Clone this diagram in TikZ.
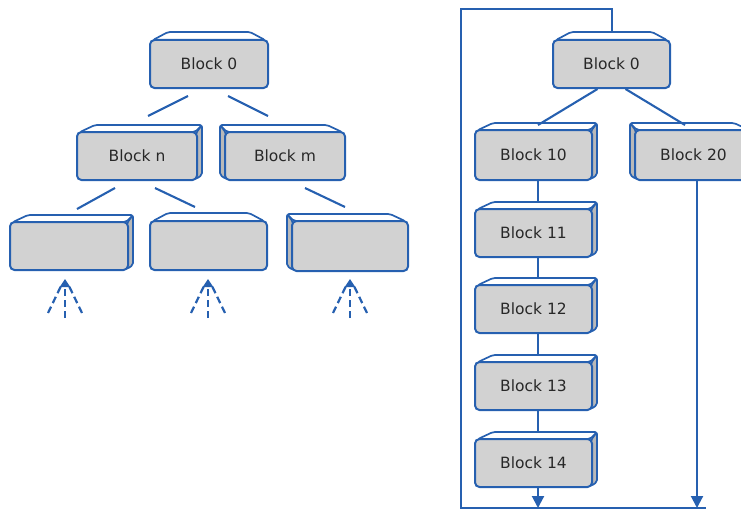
\documentclass[tikz,border=0pt]{standalone}
\usepackage{fontspec}
\setmainfont{DejaVu Sans}
\usetikzlibrary{arrows.meta,calc}
\definecolor{bblue}{RGB}{38,96,176}
\definecolor{bgray}{RGB}{210,210,210}
\definecolor{sgray}{RGB}{185,185,185}
\definecolor{tcol}{RGB}{40,40,40}

\newcommand\faceR[4]{%
  \draw[face, fill=white] (#1+3,#2) -- (#1+18,#2-7) -- (#3+5,#2-7) -- (#3-2,#2) -- cycle;
  \draw[face, fill=sgray] (#3-1,#2+1) -- (#3+5,#2-7) -- (#3+5,#4-5) -- (#3-1,#4-1) -- cycle;
}
\newcommand\faceL[4]{%
  \draw[face, fill=white] (#3-3,#2) -- (#3-18,#2-7) -- (#1-5,#2-7) -- (#1+2,#2) -- cycle;
  \draw[face, fill=sgray] (#1+1,#2+1) -- (#1-5,#2-7) -- (#1-5,#4-5) -- (#1+1,#4-1) -- cycle;
}
\newcommand\faceS[4]{%
  \draw[face, fill=white] (#1+3,#2) -- (#1+18,#2-8) -- (#3-18,#2-8) -- (#3-3,#2) -- cycle;
}
\newcommand\blk[7]{%
  \pgfmathsetmacro\bcx{(#2+#4)/2}%
  \pgfmathsetmacro\bcy{(#3+#5)/2}%
  \pgfmathsetmacro\bw{#4-#2}%
  \pgfmathsetmacro\bh{#5-#3}%
  #6{#2}{#3}{#4}{#5}%
  \node[blockfront, minimum width=\bw pt, minimum height=\bh pt] (#1) at (\bcx,\bcy) {#7};
}

\begin{document}
\begin{tikzpicture}[x=1pt,y=-1pt,
  blockfront/.style={draw=bblue, line width=2pt, fill=bgray, rounded corners=4.5pt, inner sep=0pt, font=\fontsize{15.5}{17}\selectfont, text=tcol},
  face/.style={draw=bblue, line width=1.7pt, rounded corners=2pt, line join=round},
  conn/.style={draw=bblue, line width=2.1pt},
  arr/.style={conn, -{Triangle[length=12pt,width=12pt]}},
  dasharr/.style={draw=bblue, line width=2.2pt, dash pattern=on 7pt off 4pt}]
\useasboundingbox (0,0) rectangle (741,511);

% left tree
\blk{L0}{150}{40}{268}{88}{\faceS}{Block 0}
\blk{Bn}{77}{132}{197}{180}{\faceR}{Block n}
\blk{Bm}{225}{132}{345}{180}{\faceL}{Block m}
\blk{c1}{10}{222}{128}{270}{\faceR}{}
\blk{c2}{150}{221}{267}{270}{\faceS}{}
\blk{c3}{292}{221}{408}{271}{\faceL}{}

\draw[conn] ($(L0.south)+(-21,7)$) -- ($(Bn.north)+(11,-15)$);
\draw[conn] ($(L0.south)+(19,7)$) -- ($(Bm.north)+(-17,-15)$);
\draw[conn] ($(Bn.south)+(-22,7)$) -- ($(c1.north)+(8,-12)$);
\draw[conn] ($(Bn.south)+(18,7)$) -- ($(c2.north)+(-13.5,-13)$);
\draw[conn] ($(Bm.south)+(20,7)$) -- ($(c3.north)+(-5,-13)$);

\foreach \n/\cx in {1/65,2/208,3/350}{
  \coordinate (ap\n) at (\cx,279);
  \coordinate (bm\n) at (\cx,318);
  \coordinate (bl\n) at (\cx-17,313);
  \coordinate (br\n) at (\cx+17,313);
  \draw[dasharr, -{Triangle[length=8pt,width=10pt]}] (bm\n) -- (ap\n);
  \draw[dasharr] (bl\n) -- ($(ap\n)+(-4,7)$);
  \draw[dasharr] (br\n) -- ($(ap\n)+(4,7)$);
}

% right tree
\blk{R0}{553}{40}{670}{88}{\faceS}{Block 0}
\blk{B10}{475}{130}{592}{180}{\faceR}{Block 10}
\blk{B20}{635}{130}{752}{180}{\faceL}{Block 20}
\blk{B11}{475}{209}{592}{257}{\faceR}{Block 11}
\blk{B12}{475}{285}{592}{333}{\faceR}{Block 12}
\blk{B13}{475}{362}{592}{410}{\faceR}{Block 13}
\blk{B14}{475}{439}{592}{487}{\faceR}{Block 14}

\draw[conn] ($(R0.south)+(-14,0)$) -- ($(B10.north)+(4.5,-4)$);
\draw[conn] ($(R0.south)+(14,0)$) -- ($(B20.north)+(-8.5,-4)$);
\draw[conn] ($(B10.south)+(4.5,0)$) -- ($(B11.north)+(4.5,-7)$);
\draw[conn] ($(B11.south)+(4.5,0)$) -- ($(B12.north)+(4.5,-7)$);
\draw[conn] ($(B12.south)+(4.5,0)$) -- ($(B13.north)+(4.5,-7)$);
\draw[conn] ($(B13.south)+(4.5,0)$) -- ($(B14.north)+(4.5,-7)$);

\coordinate (bot1) at (538,508);
\coordinate (bot2) at (697,508);
\coordinate (botL) at (461,508);
\coordinate (botR) at (706,508);
\draw[arr] ($(B14.south)+(4.5,0)$) -- (bot1);
\draw[arr] ($(B20.south)+(3.5,0)$) -- (bot2);
\draw[conn] ($(R0.north)+(0.5,-8)$) -- ++(0,-22) -| (botL) -- (botR);
\end{tikzpicture}
\end{document}
